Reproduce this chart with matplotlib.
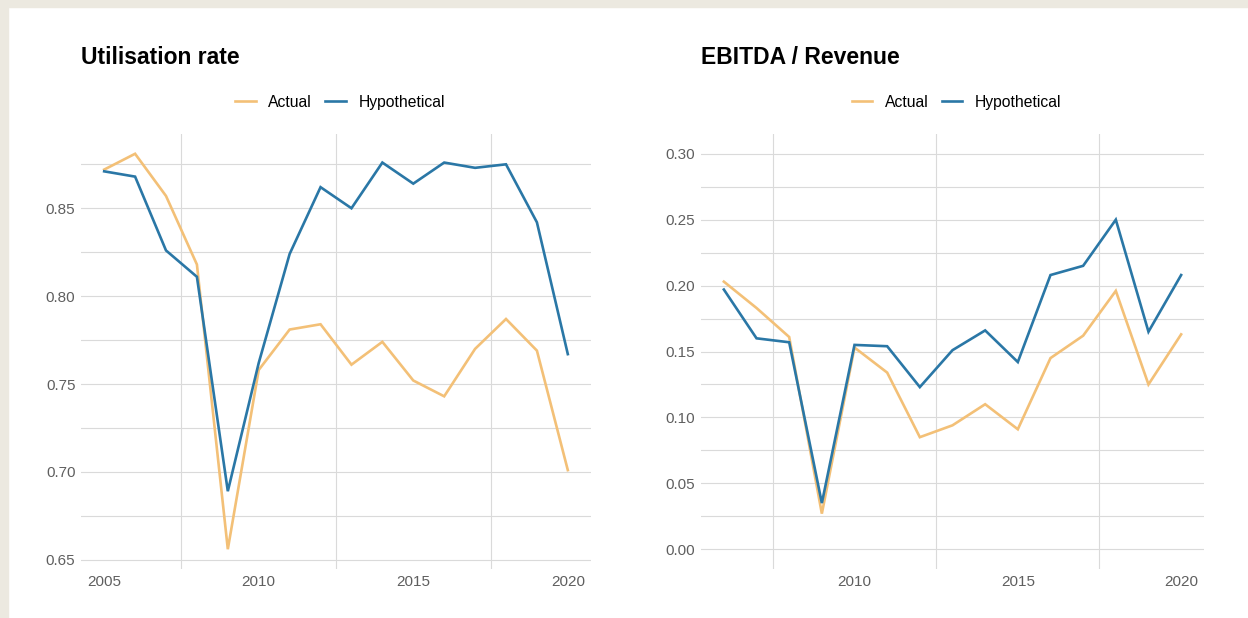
import matplotlib.pyplot as plt
from matplotlib.patches import Rectangle
import numpy as np

plt.rcParams['font.family'] = ['Liberation Sans', 'DejaVu Sans']

# Utilisation rate
util_years = [2005, 2006, 2007, 2008, 2009, 2010, 2011, 2012, 2013, 2014, 2015, 2016, 2017, 2018, 2019, 2020]
util_actual = [0.872, 0.881, 0.857, 0.818, 0.656, 0.758, 0.781, 0.784, 0.761, 0.774, 0.752, 0.743, 0.770, 0.787, 0.769, 0.701]
util_hypo = [0.871, 0.868, 0.826, 0.811, 0.689, 0.762, 0.824, 0.862, 0.850, 0.876, 0.864, 0.876, 0.873, 0.875, 0.842, 0.767]

# EBITDA / Revenue
ebitda_years = [2006, 2007, 2008, 2009, 2010, 2011, 2012, 2013, 2014, 2015, 2016, 2017, 2018, 2019, 2020]
ebitda_actual = [0.203, 0.183, 0.161, 0.027, 0.153, 0.134, 0.085, 0.094, 0.110, 0.091, 0.145, 0.162, 0.196, 0.125, 0.163]
ebitda_hypo = [0.197, 0.160, 0.157, 0.035, 0.155, 0.154, 0.123, 0.151, 0.166, 0.142, 0.208, 0.215, 0.250, 0.165, 0.208]

ORANGE = '#f3c077'
BLUE = '#2a77a6'
GRID = '#dadada'
TEXT = '#5f5f5f'

W, H = 1248, 618
fig = plt.figure(figsize=(W / 100, H / 100), dpi=100)
fig.patch.set_facecolor('white')
# beige frame on top and left
fig.patches.append(Rectangle((0, 1 - 7 / H), 1, 7 / H, transform=fig.transFigure, color='#ece9e0', zorder=-1))
fig.patches.append(Rectangle((0, 0), 8 / W, 1, transform=fig.transFigure, color='#ece9e0', zorder=-1))


def panel(x0, x1, title, years, actual, hypo, yticks, ylim, xticks, xminor):
    top, bottom = 134, 569
    ax = fig.add_axes([x0 / W, 1 - bottom / H, (x1 - x0) / W, (bottom - top) / H])
    ax.plot(years, actual, color=ORANGE, lw=1.9, label='Actual', solid_joinstyle='miter')
    ax.plot(years, hypo, color=BLUE, lw=1.9, label='Hypothetical', solid_joinstyle='miter')

    span = years[-1] - years[0]
    ax.set_xlim(years[0] - 0.05 * span, years[-1] + 0.05 * span)
    ax.set_ylim(*ylim)

    ax.set_yticks(yticks)
    ax.set_yticklabels([f'{v:.2f}' for v in yticks])
    ymin = [(a + b) / 2 for a, b in zip(yticks[:-1], yticks[1:])]
    if yticks[-1] + (yticks[1] - yticks[0]) / 2 < ylim[1]:
        ymin.append(yticks[-1] + (yticks[1] - yticks[0]) / 2)
    ax.set_yticks(ymin, minor=True)
    ax.set_xticks(xticks)
    ax.set_xticks(xminor, minor=True)

    ax.grid(axis='y', which='both', color=GRID, lw=0.8)
    ax.grid(axis='x', which='minor', color=GRID, lw=0.8)
    ax.set_axisbelow(True)
    ax.tick_params(which='both', length=0, labelsize=11, labelcolor=TEXT)
    ax.tick_params(axis='y', pad=4)
    ax.tick_params(axis='x', pad=4)
    for s in ax.spines.values():
        s.set_visible(False)

    fig.text(x0 / W, 1 - 57 / H, title, fontsize=16.5, fontweight='bold', va='center', ha='left')
    ax.legend(loc='center', bbox_to_anchor=((x0 + x1) / 2 / W + 4 / W, 1 - 102 / H),
              bbox_transform=fig.transFigure, ncol=2, frameon=False, fontsize=11.3,
              handlelength=1.3, handletextpad=0.8, columnspacing=0.85)
    return ax


util_lo = min(util_actual + util_hypo)
util_hi = max(util_actual + util_hypo)
pad = 0.05 * (util_hi - util_lo)
panel(81, 591, 'Utilisation rate', util_years, util_actual, util_hypo,
      [0.65, 0.70, 0.75, 0.80, 0.85], (util_lo - pad, util_hi + pad),
      [2005, 2010, 2015, 2020], [2007.5, 2012.5, 2017.5])

panel(701, 1204, 'EBITDA / Revenue', ebitda_years, ebitda_actual, ebitda_hypo,
      [0.00, 0.05, 0.10, 0.15, 0.20, 0.25, 0.30], (-0.015, 0.315),
      [2010, 2015, 2020], [2007.5, 2012.5, 2017.5])

fig.savefig('out.png', dpi=100)
